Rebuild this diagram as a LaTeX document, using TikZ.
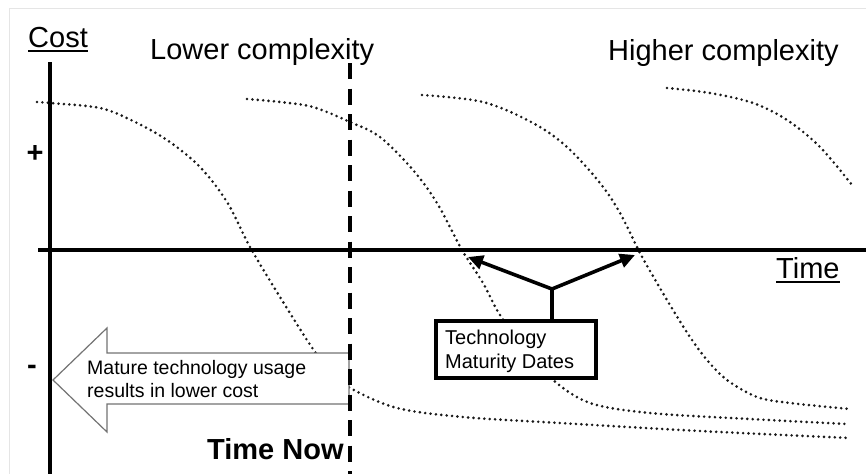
\documentclass[tikz,border=0pt]{standalone}
\usepackage{fontspec}
\setmainfont{Liberation Sans}
\usetikzlibrary{arrows.meta}
% text with a solid underline just below the baseline
\newcommand\undertext[1]{\setbox0=\hbox{#1}\rlap{\rule[-5pt]{\wd0}{2pt}}\box0}
\begin{document}
\begin{tikzpicture}[x=1pt,y=-1pt,
  lbl/.style={inner sep=0pt, font=\fontsize{29}{34}\selectfont},
  boldlbl/.style={inner sep=0pt, font=\fontsize{29}{34}\selectfont\bfseries},
  note/.style={inner sep=0pt, align=left},
  curve/.style={line width=2.9pt, dash pattern=on 0pt off 5.4pt, line cap=round, black!90},
  axis/.style={line width=3.6pt},
  nowline/.style={line width=4pt, dash pattern=on 16pt off 9.5pt},
  pointer/.style={line width=3.6pt, line cap=round, -{Triangle[length=15pt,width=14pt]}},
  framing/.style={black!10, line width=1pt}]
\useasboundingbox (0,0) rectangle (866,474);
\draw[framing] (9,474) -- (9,8) -- (866,8);

% cost curves of successive technologies
\draw[curve] plot[smooth, tension=0.55] coordinates {(37,102) (50,103) (100,108) (133,121) (167,140) (200,167) (227,202) (250,247) (280,297) (315,352) (335,375) (352,389) (397,408) (463,417) (560,423) (700,431) (850,438)};
\draw[curve] plot[smooth, tension=0.55] coordinates {(247,99) (280,102) (313,107) (350,122) (380,137) (413,170) (437,203) (462,250) (483,283) (500,315) (528,352) (553,380) (590,403) (650,413) (750,419) (847,424)};
\draw[curve] plot[smooth, tension=0.55] coordinates {(422,95) (483,102) (533,123) (567,147) (600,183) (620,213) (640,253) (657,283) (673,310) (690,337) (707,360) (727,380) (757,397) (790,403) (850,409)};
\draw[curve] plot[smooth, tension=0.55] coordinates {(667,88) (710,93) (753,103) (787,120) (820,147) (852,185)};

% axes
\draw[axis] (50,62) -- (50,474);
\draw[axis] (38,250) -- (866,250);

% block arrow towards lower cost
\draw[black!55, line width=1.2pt, fill=white] (53,380) -- (107,328) -- (107,353) -- (349,353) -- (349,404) -- (107,404) -- (107,432) -- cycle;
\node[note, anchor=north west, font=\fontsize{19.5}{23}\selectfont] (usage) at (87,360) {Mature technology usage\\results in lower cost};

% present time marker
\draw[nowline] (350,63) -- (350,474);

% maturity dates callout
\node[draw, line width=3.5pt, fill=white, minimum width=160pt, minimum height=57pt, inner sep=0pt, anchor=north west] (datesbox) at (434,319) {};
\node[note, anchor=north west, font=\fontsize{20}{24}\selectfont] (datestext) at (445,330) {Technology\\Maturity Dates};
\coordinate (fork) at (552,289);
\coordinate (date2) at (468,257);
\coordinate (date3) at (635,255);
\draw[line width=3.6pt, line cap=round] (datesbox.north -| fork) -- (fork);
\draw[pointer] (fork) -- (date2);
\draw[pointer] (fork) -- (date3);

% labels
\node[lbl, anchor=base west] (costlbl) at (28,47) {\undertext{Cost}};
\node[lbl, anchor=base west] (lowlbl) at (150,59) {Lower complexity};
\node[lbl, anchor=base west] (highlbl) at (608,60) {Higher complexity};
\node[lbl, anchor=base west] (timelbl) at (776,278) {\undertext{Time}};
\node[boldlbl, anchor=base west] (nowlbl) at (207,459) {Time Now};
\node[boldlbl] (plus) at (35,154) {+};
\node[boldlbl] (minus) at (32,370) {-};
\end{tikzpicture}
\end{document}
